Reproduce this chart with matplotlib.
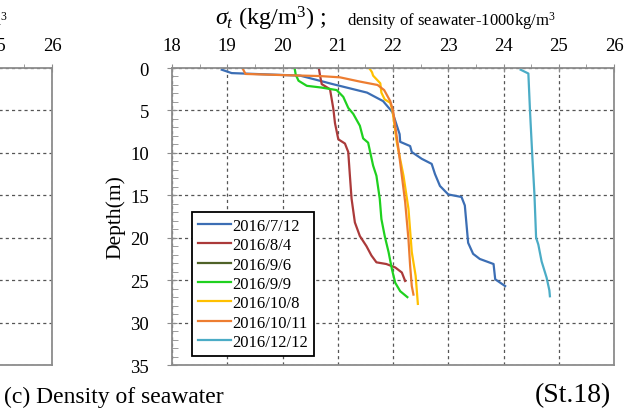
import matplotlib
matplotlib.use("Agg")
import matplotlib.pyplot as plt
from matplotlib.ticker import MultipleLocator

# sigma-t profiles (St.18)
dates = ["2016/7/12", "2016/8/4", "2016/9/6", "2016/9/9",
         "2016/10/8", "2016/10/11", "2016/12/12"]
colors = ["#3c6eb4", "#ab3a3a", "#4f6228", "#1fd11f",
          "#ffc000", "#ed7d31", "#4bacc6"]

sigma_0712 = [18.90, 19.08, 20.32, 20.91, 21.53, 21.82, 21.99, 22.12, 22.13,
              22.31, 22.34, 22.52, 22.70, 22.76, 22.85, 23.00, 23.24, 23.30,
              23.36, 23.45, 23.57, 23.82, 23.85, 24.03]
depth_0712 = [0.2, 0.6, 0.9, 1.9, 2.9, 3.9, 5.2, 7.8, 8.7, 9.2, 9.9, 10.7,
              11.3, 12.5, 13.9, 14.9, 15.2, 16.2, 20.6, 21.9, 22.5, 23.1,
              24.9, 25.7]

sigma_0804 = [20.66, 20.68, 20.71, 20.86, 20.92, 20.95, 21.01, 21.13, 21.19,
              21.22, 21.25, 21.31, 21.40, 21.52, 21.61, 21.70, 21.88, 22.04,
              22.16, 22.22]
depth_0804 = [0.1, 0.9, 1.9, 2.5, 4.8, 6.5, 8.4, 8.9, 9.9, 12.7, 15.4, 18.2,
              19.8, 21.0, 22.1, 22.9, 23.1, 23.5, 24.1, 25.1]

sigma_0906 = []
depth_0906 = []

sigma_0909 = [20.22, 20.24, 20.29, 20.44, 20.70, 20.98, 21.10, 21.19, 21.28,
              21.40, 21.46, 21.55, 21.64, 21.70, 21.76, 21.79, 21.85, 21.92,
              21.98, 22.04, 22.13, 22.26]
depth_0909 = [0.05, 0.8, 1.5, 2.1, 2.3, 2.6, 3.4, 4.7, 5.4, 6.8, 8.3, 8.8,
              11.5, 12.7, 15.4, 17.8, 19.8, 21.7, 23.7, 25.3, 26.3, 27.0]

sigma_1008 = [21.58, 21.62, 21.64, 21.77, 21.79, 21.85, 21.95, 21.99, 22.07,
              22.19, 22.28, 22.34, 22.41, 22.45]
depth_1008 = [0.1, 0.5, 0.9, 1.8, 2.9, 3.7, 4.1, 5.0, 8.8, 12.7, 16.6, 21.7,
              24.5, 27.8]

sigma_1011 = [19.29, 19.33, 20.08, 20.68, 21.04, 21.40, 21.72, 21.84, 21.95,
              22.00, 22.04, 22.10, 22.16, 22.22, 22.28, 22.31, 22.34, 22.37]
depth_1011 = [0.2, 0.7, 0.85, 0.95, 1.1, 1.6, 2.0, 2.6, 3.9, 5.0, 6.8, 9.6,
              12.7, 15.8, 20.2, 23.3, 25.7, 26.7]

sigma_1212 = [24.31, 24.45, 24.48, 24.52, 24.56, 24.59, 24.63, 24.69, 24.78,
              24.83, 24.84]
depth_1212 = [0.2, 0.65, 5.1, 10.2, 14.9, 20.0, 20.8, 22.8, 24.7, 26.2, 26.9]

sigma_series = [sigma_0712, sigma_0804, sigma_0906, sigma_0909,
                sigma_1008, sigma_1011, sigma_1212]
depth_series = [depth_0712, depth_0804, depth_0906, depth_0909,
                depth_1008, depth_1011, depth_1212]

x_ticks = [18, 19, 20, 21, 22, 23, 24, 25, 26]
y_ticks = [0, 5, 10, 15, 20, 25, 30, 35]

plt.rcParams["font.family"] = ["Liberation Serif", "DejaVu Serif"]
plt.rcParams["mathtext.fontset"] = "custom"
plt.rcParams["mathtext.rm"] = "Liberation Serif"
plt.rcParams["mathtext.it"] = "Liberation Serif:italic"

SPINE = "#8c8c8c"
GRID = "#555555"


def style_axes(ax):
    ax.set_xlim(x_ticks[0], x_ticks[-1])
    ax.set_ylim(y_ticks[-1], y_ticks[0])
    ax.xaxis.tick_top()
    ax.set_xticks(x_ticks)
    ax.set_yticks(y_ticks)
    ax.xaxis.set_minor_locator(MultipleLocator(0.5))
    ax.yaxis.set_minor_locator(MultipleLocator(1))
    for side in ax.spines.values():
        side.set_color(SPINE)
        side.set_linewidth(1.3)
    ax.tick_params(axis="x", which="major", direction="inout", length=6,
                   color=SPINE, labelsize=13.5, pad=7)
    ax.tick_params(axis="x", which="minor", direction="out", length=3,
                   color=SPINE)
    ax.tick_params(axis="y", which="major", direction="inout", length=7,
                   color=SPINE, labelsize=13.5, pad=13)
    ax.tick_params(axis="y", which="minor", direction="in", length=4,
                   color=SPINE)
    ax.grid(True, which="major", color=GRID, linestyle=(0, (2.5, 2.5)),
            linewidth=0.9)
    ax.set_axisbelow(True)


fig = plt.figure(figsize=(6.25, 4.1), dpi=100)

# neighbouring panel, mostly cut off at the left edge
ax_left = fig.add_axes([-0.624, 0.1073, 0.7072, 0.7244])
style_axes(ax_left)
ax_left.set_xticklabels(["" if t < 25 else str(t) for t in x_ticks])
ax_left.tick_params(axis="y", labelleft=False)
fig.text(8 / 625, 0.9366, "kg/m$^3$", fontsize=12, ha="right",
         va="baseline")

ax = fig.add_axes([0.2752, 0.1073, 0.7072, 0.7244])
style_axes(ax)
for sigma, depth, label, color in zip(sigma_series, depth_series, dates, colors):
    ax.plot(sigma, depth, color=color, linewidth=1.6, label=label)

ax.set_ylabel("Depth(m)", fontsize=15.5)
ax.yaxis.set_label_coords(-0.105, 0.5)

legend = ax.legend(loc="lower left", bbox_to_anchor=(0.045, 0.031),
                   borderaxespad=0, fontsize=12, labelspacing=0.2,
                   handlelength=2.0, handletextpad=0.1, borderpad=0.35,
                   fancybox=False, framealpha=1)
legend.get_frame().set_edgecolor("black")
legend.get_frame().set_linewidth(1.3)

fig.text(215 / 625, 0.9366, r"$\sigma_t$ (kg/m$^3$) ;", fontsize=17.5,
         ha="left", va="baseline")
fig.text(556 / 625, 0.9366, "density of seawater-1000kg/m$^3$",
         fontsize=12, ha="right", va="baseline")

fig.text(4 / 625, 0.018, "(c) Density of seawater", fontsize=17,
         ha="left", va="baseline")
fig.text(611 / 625, 0.018, "(St.18)", fontsize=20, ha="right",
         va="baseline")

fig.savefig("out.png", dpi=100)
